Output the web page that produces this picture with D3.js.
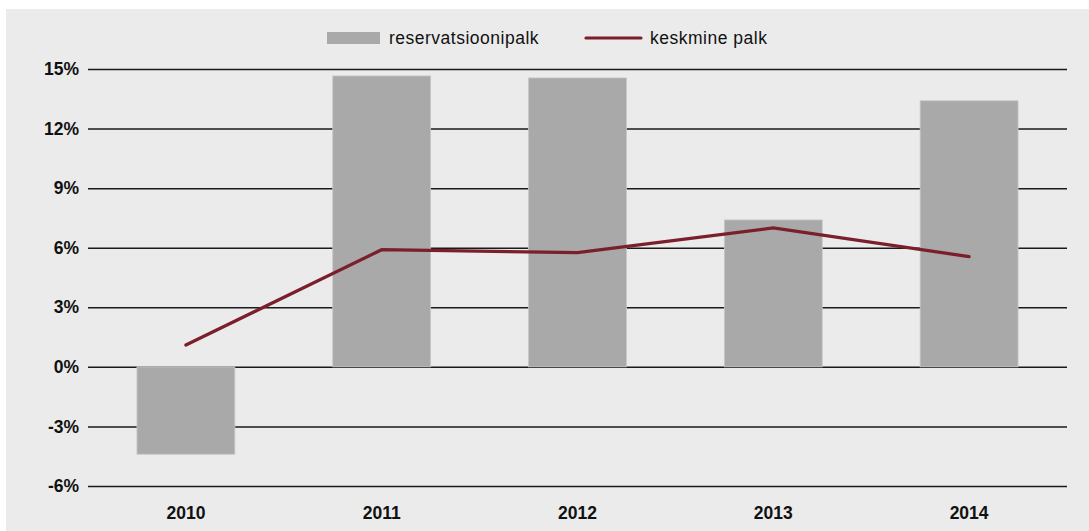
<!DOCTYPE html>
<html>
<head>
<meta charset="utf-8">
<script src="https://cdn.jsdelivr.net/npm/d3@7"></script>
<style>
  body { margin: 0; background: #fff; }
  text { font-family: "Liberation Sans", Arial, sans-serif; fill: #111; }
  .tick text { font-weight: bold; font-size: 17.5px; }
  .legend text { font-size: 17.5px; letter-spacing: 0.5px; }
</style>
</head>
<body>
<div id="chart"></div>
<script>
const years = ["2010", "2011", "2012", "2013", "2014"];
const reservatsioonipalk = [-4.4, 14.65, 14.55, 7.4, 13.4];
const keskminePalk = [1.1, 5.9, 5.75, 7.0, 5.55];
const yTicks = [-6, -3, 0, 3, 6, 9, 12, 15];

const width = 1089;
const height = 531;
const margin = { top: 69, right: 22, bottom: 45, left: 88 };

const svg = d3.select("#chart")
    .append("svg")
    .attr("width", width)
    .attr("height", height)
    .style("display", "block");

svg.append("rect")
    .attr("x", 6)
    .attr("y", 9)
    .attr("width", width - 6)
    .attr("height", height - 9)
    .attr("fill", "#ebebeb");

const x = d3.scaleBand()
    .domain(years)
    .range([margin.left, width - margin.right])
    .paddingInner(0.5)
    .paddingOuter(0.25);

const y = d3.scaleLinear()
    .domain([-6, 15])
    .range([height - margin.bottom, margin.top]);

// gridlines + y labels
const yAxis = svg.append("g")
    .attr("transform", `translate(${margin.left},0)`)
    .call(d3.axisLeft(y)
        .tickValues(yTicks)
        .tickSize(-(width - margin.left - margin.right))
        .tickPadding(9)
        .tickFormat(d => d + "%"));
yAxis.select(".domain").remove();
yAxis.selectAll(".tick line")
    .attr("stroke", "#1a1a1a")
    .attr("stroke-width", 1.5);

// bars
svg.selectAll(".bar")
    .data(reservatsioonipalk)
    .enter().append("rect")
    .attr("class", "bar")
    .attr("x", (d, i) => x(years[i]))
    .attr("width", x.bandwidth())
    .attr("y", d => y(Math.max(0, d)))
    .attr("height", d => Math.abs(y(d) - y(0)))
    .attr("fill", "#a9a9a9")
    .attr("stroke", "#c8c8c8")
    .attr("stroke-width", 0.8);

// line
const line = d3.line()
    .x((d, i) => x(years[i]) + x.bandwidth() / 2)
    .y(d => y(d));

svg.append("path")
    .datum(keskminePalk)
    .attr("d", line)
    .attr("fill", "none")
    .attr("stroke", "#7a1f2b")
    .attr("stroke-width", 3.2)
    .attr("stroke-linecap", "round");

// x labels
const xAxis = svg.append("g")
    .attr("transform", `translate(0,${height - margin.bottom})`)
    .call(d3.axisBottom(x).tickSize(0).tickPadding(21));
xAxis.select(".domain").remove();

// legend
const legend = svg.append("g").attr("class", "legend");
legend.append("rect")
    .attr("x", 327).attr("y", 32)
    .attr("width", 53).attr("height", 12)
    .attr("fill", "#a9a9a9");
legend.append("text")
    .attr("x", 389).attr("y", 38)
    .attr("dy", "0.35em")
    .text("reservatsioonipalk");
legend.append("line")
    .attr("x1", 586).attr("x2", 641)
    .attr("y1", 38).attr("y2", 38)
    .attr("stroke", "#7a1f2b")
    .attr("stroke-width", 3.2)
    .attr("stroke-linecap", "round");
legend.append("text")
    .attr("x", 650).attr("y", 38)
    .attr("dy", "0.35em")
    .text("keskmine palk");
</script>
</body>
</html>
